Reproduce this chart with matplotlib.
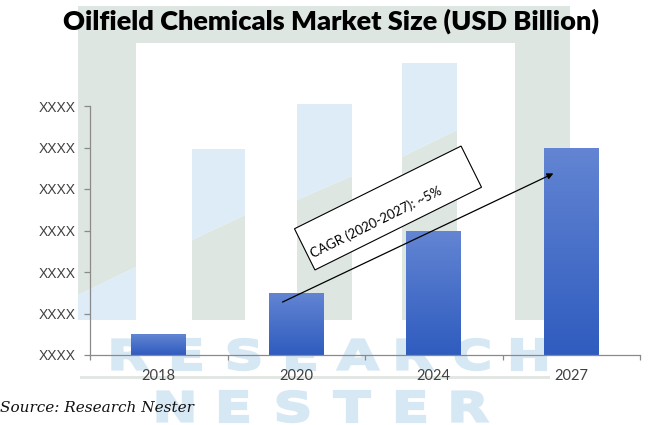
import numpy as np
import matplotlib
matplotlib.use('Agg')
import matplotlib.pyplot as plt
from matplotlib.patches import Rectangle, Polygon, PathPatch
from matplotlib.textpath import TextPath
from matplotlib.font_manager import FontProperties
from matplotlib.colors import LinearSegmentedColormap
import matplotlib.transforms as mtransforms

# ---------------- data ----------------
years = ['2018', '2020', '2024', '2027']
values = [0.5, 1.5, 3.0, 5.0]
ytick_values = [0, 1, 2, 3, 4, 5, 6]
ytick_labels = ['XXXX'] * 7
title = 'Oilfield Chemicals Market Size (USD Billion)'
cagr_label = 'CAGR (2020-2027): ~5%'
source = 'Source: Research Nester'

W, H = 650, 425
fig = plt.figure(figsize=(6.5, 4.25), dpi=100)
fig.patch.set_facecolor('white')

# ---------------- watermark (background, pixel coords) ----------------
bg = fig.add_axes([0, 0, 1, 1], zorder=0)
bg.set_xlim(0, W)
bg.set_ylim(H, 0)
bg.axis('off')

GRAY = '#dde6e1'
BLUE = '#ddecf6'
WM = '#d7e8f5'

gray_polys = [
    [(78, 6), (570, 6), (570, 43), (78, 43)],
    [(78, 43), (136, 43), (136, 267), (78, 295)],
    [(192, 240), (245, 215), (245, 320), (192, 320)],
    [(297, 200), (352, 176), (352, 320), (297, 320)],
    [(402, 157), (457, 130), (457, 320), (402, 320)],
    [(515, 43), (570, 43), (570, 320), (515, 320)],
]
blue_polys = [
    [(78, 295), (136, 267), (136, 320), (78, 320)],
    [(192, 149), (245, 149), (245, 215), (192, 240)],
    [(297, 104), (352, 104), (352, 176), (297, 200)],
    [(402, 63), (457, 63), (457, 130), (402, 157)],
]
for p in gray_polys:
    bg.add_patch(Polygon(p, closed=True, fc=GRAY, ec='none'))
for p in blue_polys:
    bg.add_patch(Polygon(p, closed=True, fc=BLUE, ec='none'))

bg.add_patch(Rectangle((80, 376), 470, 3, fc='#e2e7e4', ec='none'))

fp = FontProperties(family='DejaVu Sans', weight='bold')


def wm_word(word, x_first, pitch, baseline, cap=30, sx=1.3):
    size = cap / 0.729
    for i, ch in enumerate(word):
        cx = x_first + i * pitch
        tp = TextPath((0, 0), ch, size=size, prop=fp)
        ext = tp.get_extents()
        tr = (mtransforms.Affine2D()
              .translate(-(ext.x0 + ext.width / 2), 0)
              .scale(sx, -1)
              .translate(cx, baseline))
        bg.add_patch(PathPatch(tr.transform_path(tp), fc=WM, ec=WM, lw=1.6,
                               joinstyle='miter'))


wm_word('RESEARCH', 130, 57, 369.5)
wm_word('NESTER', 175, 59, 421.5)

# ---------------- main axes ----------------
ax = fig.add_axes([90 / W, 70 / H, 550 / W, 249 / H], zorder=1)
ax.patch.set_alpha(0)
x = np.arange(len(years))
ax.set_xlim(-0.5, len(years) - 0.5)
ax.set_ylim(ytick_values[0], ytick_values[-1])

bars = ax.bar(x, values, width=0.4, color='none', edgecolor='none', zorder=2)
cmap = LinearSegmentedColormap.from_list('bargrad', ['#2f5cbf', '#6385d3'])
grad = np.linspace(1, 0, 256).reshape(-1, 1)
for b in bars:
    x0, y0 = b.get_x(), b.get_y()
    im = ax.imshow(grad, extent=[x0, x0 + b.get_width(), y0, y0 + b.get_height()],
                   aspect='auto', cmap=cmap, vmin=0, vmax=1, zorder=2,
                   interpolation='bilinear')
    im.set_clip_path(b)
ax.set_xlim(-0.5, len(years) - 0.5)
ax.set_ylim(ytick_values[0], ytick_values[-1])

for s in ['top', 'right']:
    ax.spines[s].set_visible(False)
for s in ['left', 'bottom']:
    ax.spines[s].set_color('#8a8a8a')
    ax.spines[s].set_linewidth(0.9)

ax.set_yticks(ytick_values)
ax.set_yticklabels(ytick_labels, fontsize=10, family='Liberation Sans', color='#404040')
ax.tick_params(axis='y', length=4, width=0.9, color='#8a8a8a', pad=6.5)

ax.set_xticks(np.arange(-0.5, len(years)), labels=[''] * (len(years) + 1))
ax.set_xticks(x, labels=years, minor=True)
ax.tick_params(axis='x', which='major', length=3.5, width=0.9, color='#8a8a8a')
ax.tick_params(axis='x', which='minor', length=0, pad=10, labelsize=10.5,
               labelcolor='#404040')
for lab in ax.get_xticklabels(minor=True):
    lab.set_family('Lato')

# CAGR arrow from 2020 bar to 2027 bar
ax.annotate('', xy=(x[3] - 0.13, values[3] * 0.875), xytext=(x[1] - 0.1, values[1] * 0.85),
            arrowprops=dict(arrowstyle='-|>', color='black', lw=0.9,
                            mutation_scale=9, shrinkA=0, shrinkB=0),
            zorder=4)

# rotated label box (pixel coords)
ang = 26.4
cx, cy = 388, H - 208
pix2fig = mtransforms.Affine2D().scale(1 / W, 1 / H) + fig.transFigure
box_tr = mtransforms.Affine2D().rotate_deg_around(cx, cy, ang) + pix2fig
fig.add_artist(Rectangle((cx - 93, cy - 23), 186, 46, transform=box_tr,
                         fc='white', ec='black', lw=0.8, zorder=5))
u = np.array([np.cos(np.radians(ang)), np.sin(np.radians(ang))])
v = np.array([u[1], -u[0]])
tc = np.array([cx, cy]) - 17 * u + 7 * v
fig.text(tc[0] / W, tc[1] / H, cagr_label, rotation=ang, rotation_mode='anchor',
         ha='center', va='center', fontsize=9.5, family='Lato', color='black', zorder=6)

# title & source
fig.text(331 / W, 1 - 30 / H, title, ha='center', va='baseline', fontsize=19.5,
         fontweight='heavy', family='Lato', color='black', zorder=6)
fig.text(0, 1 - 408 / H, source, ha='left', va='center', fontsize=11,
         family='DejaVu Serif', style='italic', color='#111111', zorder=6)

fig.savefig('out.png', dpi=100)
